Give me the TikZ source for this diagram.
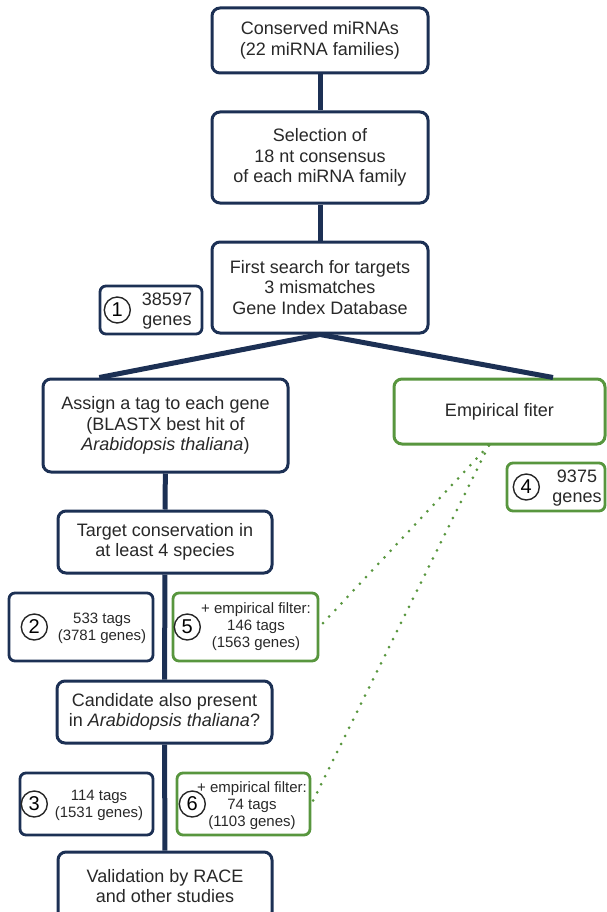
\documentclass[tikz,border=0pt]{standalone}
\usepackage{fontspec}
\setmainfont{Liberation Sans}
\usepackage{xcolor}
\usetikzlibrary{positioning,calc}

\definecolor{navy}{RGB}{28,48,84}
\definecolor{leaf}{RGB}{88,150,62}
\definecolor{ink}{RGB}{40,40,40}

\begin{document}
\begin{tikzpicture}[
  x=1pt, y=-1pt,
  stepbox/.style={draw=navy, line width=3pt, rounded corners=8pt, fill=white, align=center, text=ink, font=\fontsize{18}{20.5}\selectfont, inner sep=0pt},
  filterbox/.style={stepbox, draw=leaf},
  cntbox/.style={draw=navy, line width=2.8pt, rounded corners=6pt, inner sep=0pt},
  cntgreen/.style={cntbox, draw=leaf},
  cnttxt/.style={align=center, text=ink, font=\fontsize{15}{17}\selectfont, inner sep=0pt},
  bigtxt/.style={cnttxt, font=\fontsize{18}{20}\selectfont},
  numcirc/.style={circle, draw=black!85, line width=1.4pt, minimum size=26pt, inner sep=0pt, font=\fontsize{20}{20}\selectfont, anchor=west},
  link/.style={navy, line width=5pt},
  empi/.style={leaf, line width=3pt, line cap=round, dash pattern=on 0pt off 9pt}
]
  \useasboundingbox (0,0) rectangle (606,912);

  % main pipeline
  \node[stepbox, minimum width=216pt, minimum height=65pt] (conserved) at (320,40.5) {Conserved miRNAs\\(22 miRNA families)};
  \node[stepbox, minimum width=216pt, minimum height=91pt] (selection) at (320,157.5) {Selection of\\18 nt consensus\\of each miRNA family};
  \node[stepbox, minimum width=216pt, minimum height=91pt] (search) at (320,287.5) {First search for targets\\3 mismatches\\Gene Index Database};
  \node[stepbox, minimum width=245pt, minimum height=93pt] (assign) at (165.5,425.5) {Assign a tag to each gene\\(BLASTX best hit of\\\textit{Arabidopsis thaliana})};
  \node[filterbox, minimum width=211pt, minimum height=65pt] (empirical) at (499.5,411.5) {Empirical fiter};
  \node[stepbox, minimum width=214pt, minimum height=62pt] (conservation) at (165,542) {Target conservation in\\at least 4 species};
  \node[stepbox, minimum width=215pt, minimum height=62pt] (candidate) at (164.5,712) {Candidate also present\\in \textit{Arabidopsis thaliana}?};
  \node[stepbox, minimum width=214pt, minimum height=68pt] (validation) at (165,886) {Validation by RACE\\and other studies};

  % counts
  \node[cntbox, minimum width=102pt, minimum height=48pt] (cnt1) at (151,310) {};
  \node[bigtxt] (cnt1txt) at (167,311) {38597\\genes};
  \node[numcirc, right=5pt of cnt1.west] (num1) {1};

  \node[cntgreen, minimum width=98pt, minimum height=48pt] (cnt4) at (556,487) {};
  \node[bigtxt] (cnt4txt) at (577,488) {9375\\genes};
  \node[numcirc, right=7pt of cnt4.west] (num4) {4};

  \node[cntbox, minimum width=144pt, minimum height=68pt] (cnt2) at (81,627) {};
  \node[cnttxt] (cnt2txt) at (102,628) {533 tags\\(3781 genes)};
  \node[numcirc, right=13pt of cnt2.west] (num2) {2};

  \node[cntgreen, minimum width=145pt, minimum height=68pt] (cnt5) at (245.5,627) {};
  \node[cnttxt] (cnt5txt) at (256,627) {+ empirical filter:\\146 tags\\(1563 genes)};
  \node[numcirc, right=2pt of cnt5.west] (num5) {5};

  \node[cntbox, minimum width=133pt, minimum height=62pt] (cnt3) at (86.5,804) {};
  \node[cnttxt] (cnt3txt) at (99,805) {114 tags\\(1531 genes)};
  \node[numcirc, right=2pt of cnt3.west] (num3) {3};

  \node[cntgreen, minimum width=133pt, minimum height=62pt] (cnt6) at (243.5,804) {};
  \node[cnttxt] (cnt6txt) at (252,806) {+ empirical filter:\\74 tags\\(1103 genes)};
  \node[numcirc, right=3pt of cnt6.west] (num6) {6};

  % connectors
  \draw[link] (conserved) -- (selection);
  \draw[link] (selection) -- (search);
  \draw[link] ($(assign.north west)!0.233!(assign.north east)$) -- (search.south)
    -- ($(empirical.north west)!0.75!(empirical.north east)$);
  \draw[link] (assign) -- (conservation);
  \draw[link] (conservation) -- (candidate);
  \draw[link] (candidate) -- (validation);

  % empirical filter links
  \coordinate (efoot) at ($(empirical.south west)!0.45!(empirical.south east)$);
  \draw[empi] (efoot) -- (cnt5.east);
  \draw[empi] (efoot) -- (cnt6.east);
\end{tikzpicture}
\end{document}
